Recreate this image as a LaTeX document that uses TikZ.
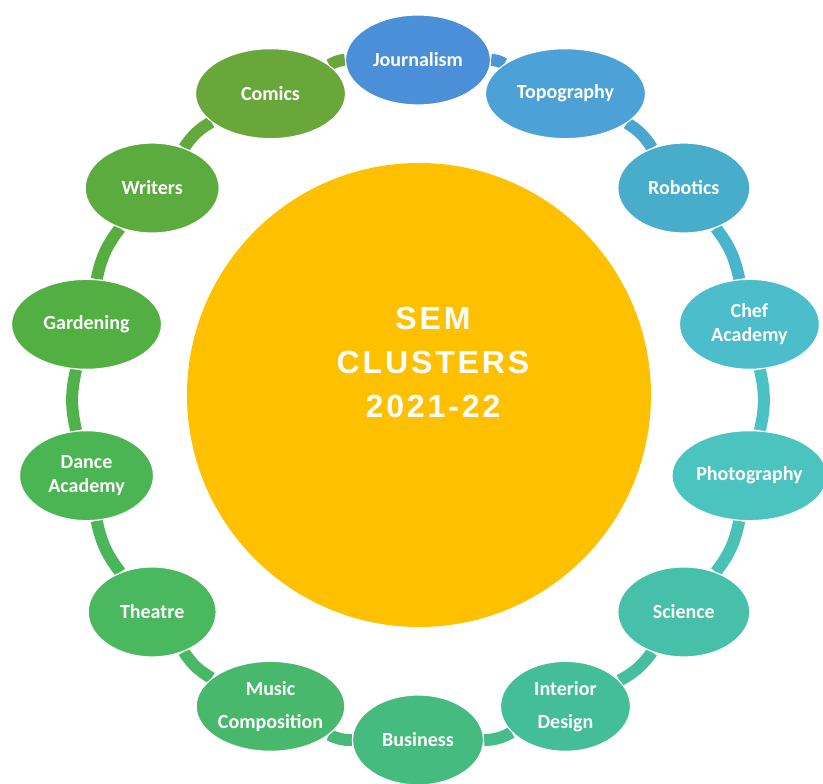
\documentclass[tikz,border=0pt]{standalone}
\usepackage{fontspec}
\setmainfont{Carlito}
\newfontfamily\titlefont[LetterSpace=9]{Liberation Sans}
\usetikzlibrary{shapes.geometric,backgrounds}

\definecolor{hubyellow}{HTML}{FFC000}
\definecolor{cJour}{HTML}{4A8FD8}
\definecolor{cTopo}{HTML}{4CA2D6}
\definecolor{cRobo}{HTML}{47ADCB}
\definecolor{cChef}{HTML}{4BBDCB}
\definecolor{cPhoto}{HTML}{4BC3BF}
\definecolor{cSci}{HTML}{47C0AA}
\definecolor{cInter}{HTML}{43BE96}
\definecolor{cBus}{HTML}{45BB80}
\definecolor{cMusic}{HTML}{48B96C}
\definecolor{cTheatre}{HTML}{4AB85E}
\definecolor{cDance}{HTML}{4BB554}
\definecolor{cGarden}{HTML}{52AF42}
\definecolor{cWriters}{HTML}{5BAB3E}
\definecolor{cComics}{HTML}{6AA73B}

\tikzset{
  club/.style={ellipse, fill=#1, draw=white, line width=1.2pt, minimum height=90pt,
    inner sep=0pt, text=white, align=center, font=\fontsize{20}{24}\selectfont\bfseries},
  link/.style={draw=#1, line width=12pt},
}

\begin{document}
\begin{tikzpicture}[x=1pt,y=1pt]
        \useasboundingbox (-418,-384) rectangle (405,400);

        \node[circle, fill=hubyellow, minimum size=464pt, inner sep=0pt] (hub) at (1,5) {};
        \node[text=white, align=center, font=\titlefont\fontsize{32}{44}\selectfont\bfseries] (title) at (15,38) {SEM\\CLUSTERS\\2021-22};

        \node[club=cJour, minimum width=145pt] (jour) at (90:340) {Journalism};
        \node[club=cTopo, minimum width=160pt] (topo) at (64.29:340) {Topography};
        \node[club=cRobo, minimum width=132pt] (robo) at (38.57:340) {Robotics};
        \node[club=cChef, minimum width=140pt] (chef) at (12.86:340) {Chef\\Academy};
        \node[club=cPhoto, minimum width=155pt] (photo) at (-12.86:340) {Photography};
        \node[club=cSci, minimum width=132pt] (sci) at (-38.57:340) {Science};
        \node[club=cInter, minimum width=130pt] (inter) at (-64.29:340) {Interior\\[9pt]Design};
        \node[club=cBus, minimum width=131pt] (bus) at (-90:340) {Business};
        \node[club=cMusic, minimum width=148pt] (music) at (-115.71:340) {Music\\[9pt]Composition};
        \node[club=cTheatre, minimum width=128pt] (theatre) at (-141.43:340) {Theatre};
        \node[club=cDance, minimum width=134pt] (dance) at (-167.14:340) {Dance\\Academy};
        \node[club=cGarden, minimum width=150pt] (garden) at (167.14:340) {Gardening};
        \node[club=cWriters, minimum width=134pt] (writers) at (141.43:340) {Writers};
        \node[club=cComics, minimum width=150pt] (comics) at (115.71:340) {Comics};

        \begin{pgfonlayer}{background}
        \draw[link=cJour!60!cTopo] (jour) to[bend left=13] (topo);
        \draw[link=cTopo!50!cRobo] (topo) to[bend left=13] (robo);
        \draw[link=cRobo!50!cChef] (robo) to[bend left=13] (chef);
        \draw[link=cChef!50!cPhoto] (chef) to[bend left=13] (photo);
        \draw[link=cPhoto!50!cSci] (photo) to[bend left=13] (sci);
        \draw[link=cSci!50!cInter] (sci) to[bend left=13] (inter);
        \draw[link=cInter!50!cBus] (inter) to[bend left=13] (bus);
        \draw[link=cBus!50!cMusic] (bus) to[bend left=13] (music);
        \draw[link=cMusic!50!cTheatre] (music) to[bend left=13] (theatre);
        \draw[link=cTheatre!50!cDance] (theatre) to[bend left=13] (dance);
        \draw[link=cDance!50!cGarden] (dance) to[bend left=13] (garden);
        \draw[link=cGarden!50!cWriters] (garden) to[bend left=13] (writers);
        \draw[link=cWriters!50!cComics] (writers) to[bend left=13] (comics);
        \draw[link=cComics] (comics) to[bend left=13] (jour);
        \end{pgfonlayer}
    \end{tikzpicture}
\end{document}
